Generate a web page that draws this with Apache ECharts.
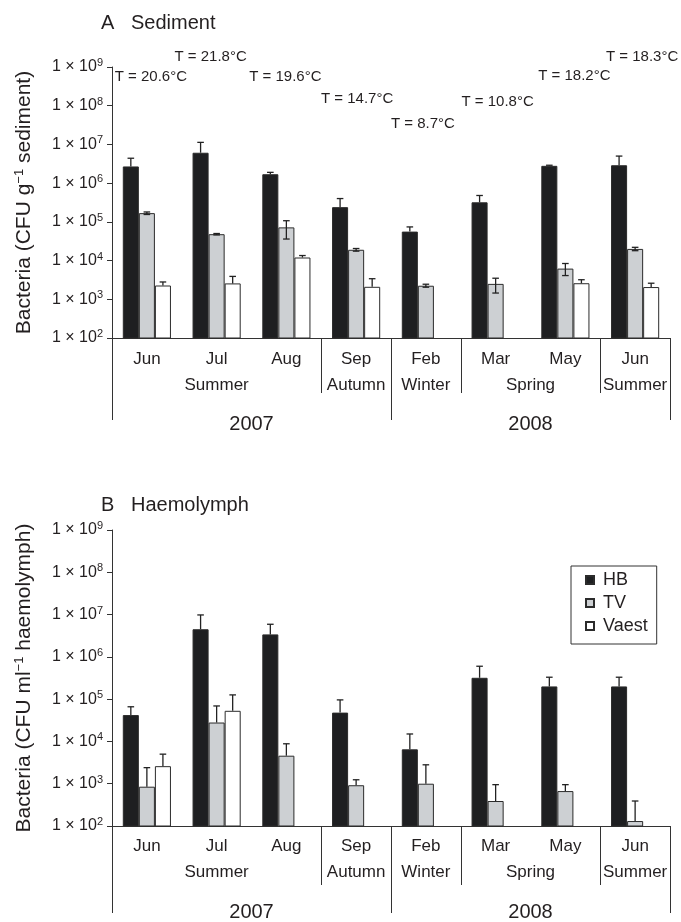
<!DOCTYPE html>
<html><head><meta charset="utf-8">
<script src="https://cdn.jsdelivr.net/npm/echarts@6/dist/echarts.min.js"></script>
<style>html,body{margin:0;padding:0;background:#fff}#c{width:681px;height:922px}</style>
</head><body><div id="c"></div>
<script>
// ---------- data ----------
const months = ['Jun','Jul','Aug','Sep','Feb','Mar','May','Jun'];
const seasonNames = ['Summer','Autumn','Winter','Spring','Summer'];
const seasonCenters = [1.5, 3.5, 4.5, 6, 7.5];
const seasonBounds = [0, 3, 4, 5, 7, 8];
const yearNames = ['2007','2008'];
const yearCenters = [2, 6];
const yearBounds = [0, 4, 8];
const seriesNames = ['HB','TV','Vaest'];
const temps = ['20.6','21.8','19.6','14.7','8.7','10.8','18.2','18.3'];

// A Sediment (CFU g-1)
const sedHB      = [2.7e6, 6.1e6, 1.7e6, 2.4e5, 5.6e4, 3.2e5, 2.8e6, 2.9e6];
const sedHBLo    = [2.7e6, 6.1e6, 1.7e6, 2.4e5, 5.6e4, 3.2e5, 2.8e6, 2.9e6];
const sedHBHi    = [4.4e6, 1.13e7, 1.9e6, 4.0e5, 7.4e4, 4.8e5, 2.9e6, 5.0e6];
const sedTV      = [1.68e5, 4.8e4, 7.2e4, 1.9e4, 2.24e3, 2.5e3, 6.2e3, 2.0e4];
const sedTVLo    = [1.55e5, 4.6e4, 3.6e4, 1.75e4, 2.05e3, 1.45e3, 4.1e3, 1.8e4];
const sedTVHi    = [1.8e5, 5.0e4, 1.07e5, 2.05e4, 2.45e3, 3.5e3, 8.4e3, 2.2e4];
const sedVa      = [2.27e3, 2.57e3, 1.2e4, 2.1e3, null, null, 2.6e3, 2.07e3];
const sedVaLo    = [2.27e3, 2.57e3, 1.2e4, 2.1e3, null, null, 2.6e3, 2.07e3];
const sedVaHi    = [2.8e3, 3.9e3, 1.35e4, 3.4e3, null, null, 3.2e3, 2.6e3];

// B Haemolymph (CFU ml-1)
const haeHB      = [4.2e4, 4.5e6, 3.4e6, 4.8e4, 6.5e3, 3.2e5, 2.0e5, 2.0e5];
const haeHBLo    = [4.2e4, 4.5e6, 3.4e6, 4.8e4, 6.5e3, 3.2e5, 2.0e5, 2.0e5];
const haeHBHi    = [6.6e4, 9.8e6, 5.9e6, 9.6e4, 1.5e4, 6.0e5, 3.3e5, 3.3e5];
const haeTV      = [850, 2.8e4, 4.6e3, 920, 1.0e3, 390, 670, 131];
const haeTVLo    = [850, 2.8e4, 4.6e3, 920, 1.0e3, 390, 670, 131];
const haeTVHi    = [2.4e3, 6.9e4, 8.8e3, 1.24e3, 2.8e3, 950, 950, 390];
const haeVa      = [2.6e3, 5.3e4, null, null, null, null, null, null];
const haeVaLo    = [2.6e3, 5.3e4, null, null, null, null, null, null];
const haeVaHi    = [5.0e3, 1.26e5, null, null, null, null, null, null];

// ---------- layout / style ----------
const FONT = 'Liberation Sans, Arial, Helvetica, sans-serif';
const TXT = '#231f20';
const AX = '#333333';
const GAP = 0.31;
const fills = ['#1e1f21', '#cdd0d3', '#ffffff'];
const tempDx = [4, -6, -1, 1, -3, 2, 9, 7];
const tempDy = [10, -10, 10, 32, 57, 35, 9, -10];

const chart = echarts.init(document.getElementById('c'), null, {renderer: 'canvas'});

function xAxes(grid, tk, mg) {
  return [
    { type: 'category', gridIndex: grid, data: months, position: 'bottom',
      axisLine: { lineStyle: { color: AX, width: 1 } },
      axisTick: { alignWithLabel: false, interval: 0, length: tk[0], lineStyle: { color: AX } },
      axisLabel: { interval: 0, margin: mg[0], fontSize: 17, color: TXT, fontFamily: FONT } },
    { type: 'value', gridIndex: grid, min: 0, max: 8, position: 'bottom',
      axisLine: { show: false }, splitLine: { show: false },
      axisTick: { show: true, customValues: seasonBounds, length: tk[1], lineStyle: { color: AX } },
      axisLabel: { customValues: seasonCenters, margin: mg[1], fontSize: 17, color: TXT, fontFamily: FONT,
        formatter: v => seasonNames[seasonCenters.indexOf(v)] } },
    { type: 'value', gridIndex: grid, min: 0, max: 8, position: 'bottom',
      axisLine: { show: false }, splitLine: { show: false },
      axisTick: { show: true, customValues: yearBounds, length: tk[2], lineStyle: { color: AX } },
      axisLabel: { customValues: yearCenters, margin: mg[2], fontSize: 20, color: TXT, fontFamily: FONT,
        formatter: v => yearNames[yearCenters.indexOf(v)] } }
  ];
}

function yAxis(grid, name) {
  return {
    type: 'log', gridIndex: grid, min: 100, max: 1e9, logBase: 10, interval: 1,
    name: name, nameLocation: 'middle', nameGap: 77, nameRotate: 90,
    nameTextStyle: { fontSize: 21, color: TXT, fontFamily: FONT,
      rich: { a: { fontSize: 21, color: TXT, fontFamily: FONT },
              s: { fontSize: 13, color: TXT, fontFamily: FONT, padding: [0, 0, 9, 0] } } },
    axisLine: { show: true, lineStyle: { color: AX, width: 1 } },
    axisTick: { show: true, length: 5, lineStyle: { color: AX } },
    splitLine: { show: false },
    axisLabel: { margin: 9, fontSize: 16, color: TXT, fontFamily: FONT,
      formatter: v => '1 × 10{s|' + Math.round(Math.log10(v)) + '}',
      rich: { s: { fontSize: 11, color: TXT, fontFamily: FONT, padding: [0, 0, 8, 0] } } }
  };
}

function clean(a) { return a.map(v => v == null ? '-' : v); }

function barSeries(name, k, xi, yi, vals) {
  return { type: 'bar', name: name, xAxisIndex: xi, yAxisIndex: yi, data: clean(vals),
    barGap: '0%', barCategoryGap: (GAP * 100) + '%', z: 2,
    itemStyle: { color: fills[k], borderColor: '#2b2b2b', borderWidth: 1 } };
}

function errSeries(k, xi, yi, vals, lo, hi) {
  const data = [];
  vals.forEach((v, i) => { if (v != null) data.push([i, lo[i], hi[i], v]); });
  return { type: 'custom', name: 'err' + k, xAxisIndex: xi, yAxisIndex: yi, z: 5, clip: false,
    encode: { x: 0, y: 2 }, data: data,
    renderItem: (params, api) => {
      const i = api.value(0), l = api.value(1), h = api.value(2), v = api.value(3);
      const band = api.size([1, 0], [i, h])[0];
      const bw = band * (1 - GAP) / 3;
      const pH = api.coord([i, h]);
      const pL = api.coord([i, l]);
      const cx = pH[0] + (k - 1) * bw;
      const cap = 3.3;
      const st = { stroke: '#222', lineWidth: 1.3 };
      const ch = [
        { type: 'line', shape: { x1: cx, y1: pL[1], x2: cx, y2: pH[1] }, style: st },
        { type: 'line', shape: { x1: cx - cap, y1: pH[1], x2: cx + cap, y2: pH[1] }, style: st }
      ];
      if (l < v * 0.999) ch.push({ type: 'line', shape: { x1: cx - cap, y1: pL[1], x2: cx + cap, y2: pL[1] }, style: st });
      return { type: 'group', children: ch };
    } };
}

const tempSeries = {
  type: 'custom', name: 'temp', xAxisIndex: 0, yAxisIndex: 0, clip: false, z: 6,
  encode: { x: 0, y: 1 },
  data: temps.map((t, i) => [i, 1e9]),
  renderItem: (params, api) => {
    const i = api.value(0);
    const p = api.coord([i, 1e9]);
    return { type: 'text', x: p[0] + tempDx[i], y: p[1] + tempDy[i],
      style: { text: 'T = ' + temps[i] + '°C', align: 'center', verticalAlign: 'middle',
        fontSize: 15, fontFamily: FONT, fill: TXT } };
  }
};

const option = {
  backgroundColor: '#ffffff',
  animation: false,
  textStyle: { fontFamily: FONT, color: TXT },
  title: [
    { text: 'A   Sediment', left: 101, top: 13, padding: 0,
      textStyle: { fontSize: 20, fontWeight: 'normal', color: TXT, fontFamily: FONT } },
    { text: 'B   Haemolymph', left: 101, top: 495, padding: 0,
      textStyle: { fontSize: 20, fontWeight: 'normal', color: TXT, fontFamily: FONT } }
  ],
  legend: {
    data: seriesNames, orient: 'vertical', left: 571, top: 566,
    icon: 'rect', itemWidth: 8, itemHeight: 8, itemGap: 5,
    padding: [5, 9, 9, 14], borderColor: '#333', borderWidth: 1,
    textStyle: { fontSize: 18, color: TXT, fontFamily: FONT, padding: [0, 0, 0, 4] }
  },
  grid: [
    { left: 112, right: 11, top: 67, height: 271 },
    { left: 112, right: 11, top: 530, height: 296 }
  ],
  xAxis: [].concat(xAxes(0, [28, 55, 82], [12.5, 39, 76]), xAxes(1, [30, 59, 87], [11.5, 37.5, 76])),
  yAxis: [
    yAxis(0, '{a|Bacteria (CFU g}{s|−1}{a| sediment)}'),
    yAxis(1, '{a|Bacteria (CFU ml}{s|−1}{a| haemolymph)}')
  ],
  series: [
    barSeries('HB', 0, 0, 0, sedHB),
    barSeries('TV', 1, 0, 0, sedTV),
    barSeries('Vaest', 2, 0, 0, sedVa),
    errSeries(0, 0, 0, sedHB, sedHBLo, sedHBHi),
    errSeries(1, 0, 0, sedTV, sedTVLo, sedTVHi),
    errSeries(2, 0, 0, sedVa, sedVaLo, sedVaHi),
    tempSeries,
    barSeries('HB', 0, 3, 1, haeHB),
    barSeries('TV', 1, 3, 1, haeTV),
    barSeries('Vaest', 2, 3, 1, haeVa),
    errSeries(0, 3, 1, haeHB, haeHBLo, haeHBHi),
    errSeries(1, 3, 1, haeTV, haeTVLo, haeTVHi),
    errSeries(2, 3, 1, haeVa, haeVaLo, haeVaHi)
  ]
};
chart.setOption(option);
</script></body></html>
